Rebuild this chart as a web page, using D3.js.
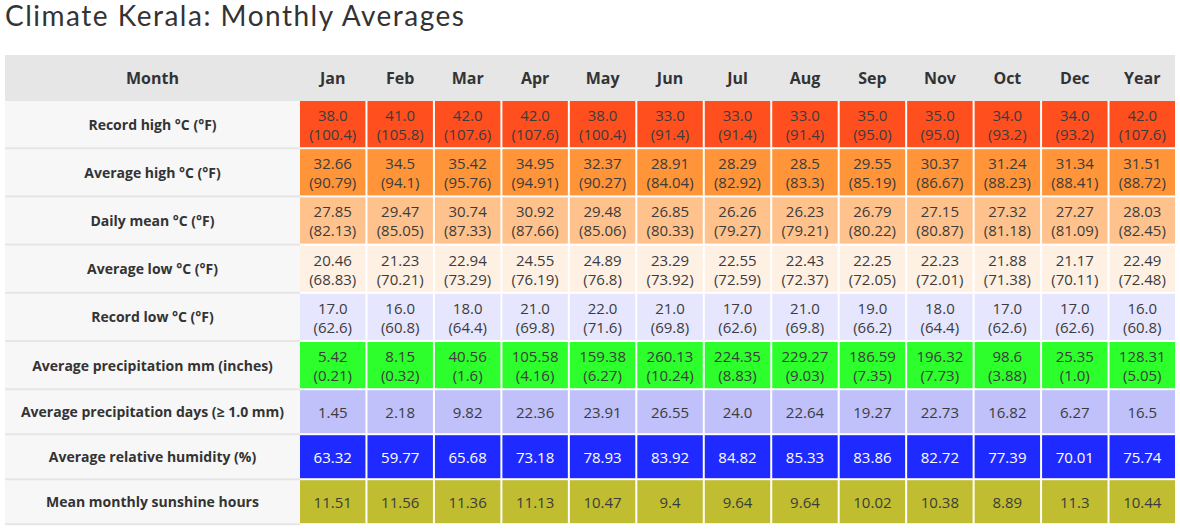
<!DOCTYPE html>
<html>
<head>
<meta charset="utf-8">
<script src="https://cdn.jsdelivr.net/npm/d3@7"></script>
<style>
    body { margin: 0; background: #fff; }
    svg { display: block; }
</style>
</head>
<body>
<svg id="chart" width="1180" height="530"></svg>
<script>
"use strict";

var columns = ["Jan", "Feb", "Mar", "Apr", "May", "Jun", "Jul", "Aug",
        "Sep", "Nov", "Oct", "Dec", "Year"];

var recordHighC = ["38.0", "41.0", "42.0", "42.0", "38.0", "33.0", "33.0",
        "33.0", "35.0", "35.0", "34.0", "34.0", "42.0"];
var recordHighF = ["100.4", "105.8", "107.6", "107.6", "100.4", "91.4",
        "91.4", "91.4", "95.0", "95.0", "93.2", "93.2", "107.6"];
var avgHighC = ["32.66", "34.5", "35.42", "34.95", "32.37", "28.91", "28.29",
        "28.5", "29.55", "30.37", "31.24", "31.34", "31.51"];
var avgHighF = ["90.79", "94.1", "95.76", "94.91", "90.27", "84.04", "82.92",
        "83.3", "85.19", "86.67", "88.23", "88.41", "88.72"];
var dailyMeanC = ["27.85", "29.47", "30.74", "30.92", "29.48", "26.85",
        "26.26", "26.23", "26.79", "27.15", "27.32", "27.27", "28.03"];
var dailyMeanF = ["82.13", "85.05", "87.33", "87.66", "85.06", "80.33",
        "79.27", "79.21", "80.22", "80.87", "81.18", "81.09", "82.45"];
var avgLowC = ["20.46", "21.23", "22.94", "24.55", "24.89", "23.29", "22.55",
        "22.43", "22.25", "22.23", "21.88", "21.17", "22.49"];
var avgLowF = ["68.83", "70.21", "73.29", "76.19", "76.8", "73.92", "72.59",
        "72.37", "72.05", "72.01", "71.38", "70.11", "72.48"];
var recordLowC = ["17.0", "16.0", "18.0", "21.0", "22.0", "21.0", "17.0",
        "21.0", "19.0", "18.0", "17.0", "17.0", "16.0"];
var recordLowF = ["62.6", "60.8", "64.4", "69.8", "71.6", "69.8", "62.6",
        "69.8", "66.2", "64.4", "62.6", "62.6", "60.8"];
var precipMm = ["5.42", "8.15", "40.56", "105.58", "159.38", "260.13",
        "224.35", "229.27", "186.59", "196.32", "98.6", "25.35", "128.31"];
var precipIn = ["0.21", "0.32", "1.6", "4.16", "6.27", "10.24", "8.83",
        "9.03", "7.35", "7.73", "3.88", "1.0", "5.05"];
var precipDays = ["1.45", "2.18", "9.82", "22.36", "23.91", "26.55", "24.0",
        "22.64", "19.27", "22.73", "16.82", "6.27", "16.5"];
var humidity = ["63.32", "59.77", "65.68", "73.18", "78.93", "83.92",
        "84.82", "85.33", "83.86", "82.72", "77.39", "70.01", "75.74"];
var sunshine = ["11.51", "11.56", "11.36", "11.13", "10.47", "9.4", "9.64",
        "9.64", "10.02", "10.38", "8.89", "11.3", "10.44"];

var rowLabels = [
    "Record high °C (°F)",
    "Average high °C (°F)",
    "Daily mean °C (°F)",
    "Average low °C (°F)",
    "Record low °C (°F)",
    "Average precipitation mm (inches)",
    "Average precipitation days (≥ 1.0 mm)",
    "Average relative humidity (%)",
    "Mean monthly sunshine hours"
];

var rows = [
    {label: rowLabels[0], main: recordHighC, sub: recordHighF,
            fill: "#ff4f1f", ink: "#3c3c3c"},
    {label: rowLabels[1], main: avgHighC, sub: avgHighF,
            fill: "#ff9438", ink: "#3c3c3c"},
    {label: rowLabels[2], main: dailyMeanC, sub: dailyMeanF,
            fill: "#ffc28c", ink: "#3c3c3c"},
    {label: rowLabels[3], main: avgLowC, sub: avgLowF,
            fill: "#fff0e4", ink: "#3c3c3c"},
    {label: rowLabels[4], main: recordLowC, sub: recordLowF,
            fill: "#e6e6ff", ink: "#3c3c3c"},
    {label: rowLabels[5], main: precipMm, sub: precipIn,
            fill: "#2cff2c", ink: "#3c3c3c"},
    {label: rowLabels[6], main: precipDays, sub: null,
            fill: "#c0c0fa", ink: "#3c3c3c"},
    {label: rowLabels[7], main: humidity, sub: null,
            fill: "#1e2aff", ink: "#fff"},
    {label: rowLabels[8], main: sunshine, sub: null,
            fill: "#c0bd31", ink: "#3c3c3c"}
];

var tableLeft = 5; // px
var tableRight = 1175; // px
var labelRight = 300; // px
var headerTop = 55; // px
var headerHeight = 46; // px
var tallRow = 48.2; // px
var shortRow = 45; // px
var gap = 2; // px

var svg = d3.select("#chart");

svg.append("text")
    .attr("x", 5)
    .attr("y", 26)
    .attr("fill", "#333")
    .style("font-family", "Lato, 'Open Sans', sans-serif")
    .style("font-size", "28px")
    .style("letter-spacing", "1.5px")
    .text("Climate Kerala: Monthly Averages");

var x = d3.scaleBand()
    .domain(columns)
    .range([labelRight, tableRight + gap]);

var tops = [];
var y0 = headerTop + headerHeight;
rows.forEach(function (r) {
    var h = r.sub ? tallRow : shortRow;
    tops.push({top: y0, height: h});
    y0 += h;
});
var tableBottom = y0;

// header band
svg.append("rect")
    .attr("x", tableLeft)
    .attr("y", headerTop)
    .attr("width", tableRight - tableLeft)
    .attr("height", headerHeight)
    .attr("fill", "#e6e6e6");

svg.append("rect")
    .attr("x", tableLeft)
    .attr("y", headerTop + headerHeight)
    .attr("width", labelRight - tableLeft)
    .attr("height", tableBottom - headerTop - headerHeight)
    .attr("fill", "#f7f7f7");

var headerFont = function (sel) {
    return sel
        .attr("text-anchor", "middle")
        .attr("dominant-baseline", "central")
        .attr("fill", "#333")
        .style("font-family", "'Open Sans', sans-serif")
        .style("font-weight", "700")
        .style("font-size", "16px");
};

svg.append("text")
    .attr("x", (tableLeft + labelRight) / 2)
    .attr("y", headerTop + headerHeight / 2)
    .call(headerFont)
    .text("Month");

svg.selectAll("text.col")
    .data(columns)
    .join("text")
    .attr("class", "col")
    .attr("x", function (d) {
        return x(d) + (x.bandwidth() - gap) / 2;
    })
    .attr("y", headerTop + headerHeight / 2)
    .call(headerFont)
    .text(function (d) {
        return d;
    });

var rowGroups = svg.selectAll("g.row")
    .data(rows)
    .join("g")
    .attr("class", "row")
    .attr("transform", function (d, i) {
        return "translate(0," + tops[i].top + ")";
    });

// separator lines in label column
rowGroups.append("rect")
    .attr("x", tableLeft)
    .attr("y", function (d, i) {
        return tops[i].height - gap;
    })
    .attr("width", labelRight - tableLeft)
    .attr("height", gap)
    .attr("fill", "#e6e6e6");

rowGroups.append("text")
    .attr("x", (tableLeft + labelRight) / 2)
    .attr("y", function (d, i) {
        return (tops[i].height - gap) / 2;
    })
    .attr("text-anchor", "middle")
    .attr("dominant-baseline", "central")
    .attr("fill", "#333")
    .style("font-family", "'Open Sans', sans-serif")
    .style("font-weight", "700")
    .style("font-size", "14px")
    .text(function (d) {
        return d.label;
    });

rowGroups.each(function (r, i) {
    var g = d3.select(this);
    var h = tops[i].height - gap;
    var cx = (x.bandwidth() - gap) / 2;
    var cells = g.selectAll("g.cell")
        .data(columns.map(function (c, j) {
            return {col: c, main: r.main[j], sub: r.sub ? r.sub[j] : null};
        }))
        .join("g")
        .attr("class", "cell")
        .attr("transform", function (d) {
            return "translate(" + x(d.col) + ",0)";
        });
    cells.append("rect")
        .attr("width", x.bandwidth() - gap)
        .attr("height", h)
        .attr("fill", r.fill);
    var txt = cells.append("text")
        .attr("x", cx)
        .attr("text-anchor", "middle")
        .attr("fill", r.ink)
        .style("font-family", "'Open Sans', sans-serif")
        .style("font-size", "15px");
    if (r.sub) {
        txt.append("tspan")
            .attr("x", cx)
            .attr("y", h / 2 - 3)
            .text(function (d) {
                return d.main;
            });
        txt.append("tspan")
            .attr("x", cx)
            .attr("y", h / 2 + 16)
            .text(function (d) {
                return "(" + d.sub + ")";
            });
    } else {
        txt.attr("y", h / 2)
            .attr("dominant-baseline", "central")
            .text(function (d) {
                return d.main;
            });
    }
});
</script>
</body>
</html>
